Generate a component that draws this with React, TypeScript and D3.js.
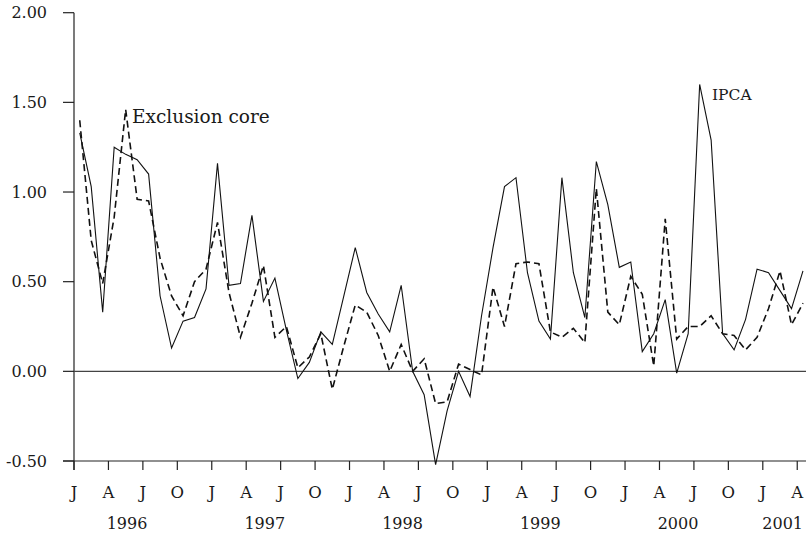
import React from 'react';
import * as d3 from 'd3';

// Monthly observations, January 1996 – April 2001
const startMonth = new Date(Date.UTC(1996, 0, 1));
const endMonth = new Date(Date.UTC(2001, 4, 1));
const months: Date[] = d3.utcMonth.range(startMonth, endMonth);

const ipca = [
  1.33, 1.03, 0.33, 1.25, 1.21, 1.18, 1.10, 0.42, 0.13, 0.28, 0.30, 0.46,
  1.16, 0.48, 0.49, 0.87, 0.39, 0.52, 0.23, -0.04, 0.05, 0.22, 0.15, 0.42,
  0.69, 0.44, 0.32, 0.22, 0.48, 0.00, -0.13, -0.52, -0.22, 0.00, -0.14, 0.31,
  0.69, 1.03, 1.08, 0.55, 0.28, 0.18, 1.08, 0.55, 0.30, 1.17, 0.93, 0.58,
  0.61, 0.11, 0.21, 0.40, -0.01, 0.21, 1.60, 1.29, 0.21, 0.12, 0.29, 0.57,
  0.55, 0.45, 0.35, 0.56,
];

const exclusionCore = [
  1.40, 0.73, 0.49, 0.86, 1.46, 0.96, 0.95, 0.63, 0.42, 0.31, 0.50, 0.57,
  0.83, 0.44, 0.19, 0.38, 0.59, 0.19, 0.25, 0.02, 0.08, 0.21, -0.10, 0.14,
  0.37, 0.33, 0.20, 0.00, 0.15, 0.00, 0.07, -0.18, -0.17, 0.04, 0.01, -0.02,
  0.47, 0.25, 0.60, 0.61, 0.60, 0.22, 0.19, 0.24, 0.16, 1.02, 0.33, 0.26,
  0.53, 0.43, 0.03, 0.85, 0.18, 0.25, 0.25, 0.31, 0.21, 0.20, 0.12, 0.19,
  0.35, 0.56, 0.26, 0.38,
];

const yTicks = [-0.5, 0, 0.5, 1.0, 1.5, 2.0];
const quarterLetters = ['J', 'A', 'J', 'O'];
const years = [1996, 1997, 1998, 1999, 2000, 2001];

const FONT = '"DejaVu Serif", serif';

export default function App() {
  const W = 806;
  const H = 551;
  const left = 74;
  const monthW = 11.48;
  const nMonths = months.length;

  const x = d3.scaleLinear().domain([0, nMonths]).range([left, left + nMonths * monthW]);
  const y = d3.scaleLinear().domain([-0.5, 2.0]).range([461, 12.7]);

  const idx = (d: Date) => d3.utcMonth.count(startMonth, d);

  const lineGen = d3
    .line<number>()
    .x((_, i) => x(i + 0.5))
    .y((v) => y(v));

  const quarterTicks = months.filter((d) => d.getUTCMonth() % 3 === 0);
  const axisY = y(-0.5);
  const rightEdge = W;

  return (
    <svg
      width={W}
      height={H}
      style={{ position: 'absolute', left: 0, top: 0, background: '#fff' }}
      fontFamily={FONT}
    >
      {/* y axis */}
      <line x1={left} x2={left} y1={y(2.0)} y2={axisY + 9} stroke="#222" strokeWidth={1.2} />
      {yTicks.map((t) => (
        <g key={t}>
          <line x1={left - 11} x2={left} y1={y(t)} y2={y(t)} stroke="#222" strokeWidth={1.2} />
          <text
            x={47}
            y={y(t)}
            dy="0.35em"
            textAnchor="end"
            fontSize={16}
            fill="#1a1a1a"
          >
            {t.toFixed(2)}
          </text>
        </g>
      ))}
      {/* zero line */}
      <line x1={left} x2={rightEdge} y1={y(0)} y2={y(0)} stroke="#444" strokeWidth={1.2} />
      {/* x axis */}
      <line x1={left - 11} x2={rightEdge} y1={axisY} y2={axisY} stroke="#222" strokeWidth={1.2} />
      {quarterTicks.map((d) => {
        const xi = x(idx(d));
        return (
          <g key={d.toISOString()}>
            <line x1={xi} x2={xi} y1={axisY} y2={axisY + 9} stroke="#222" strokeWidth={1.2} />
            <text x={xi} y={498} textAnchor="middle" fontSize={16.5} fill="#1a1a1a">
              {quarterLetters[d.getUTCMonth() / 3]}
            </text>
          </g>
        );
      })}
      {years.map((yr, i) => {
        const janX = x(idx(new Date(Date.UTC(yr, 0, 1))));
        const isLast = i === years.length - 1;
        return (
          <text
            key={yr}
            x={isLast ? 803 : janX + 53}
            y={529}
            textAnchor={isLast ? 'end' : 'middle'}
            fontSize={16}
            fill="#1a1a1a"
          >
            {yr}
          </text>
        );
      })}

      {/* series */}
      <path d={lineGen(ipca) || ''} fill="none" stroke="#111" strokeWidth={1.1} strokeLinejoin="miter" />
      <path
        d={lineGen(exclusionCore) || ''}
        fill="none"
        stroke="#111"
        strokeWidth={1.6}
        strokeDasharray="7,4"
      />

      {/* labels */}
      <text x={132} y={123} fontSize={18.5} fill="#1a1a1a">
        Exclusion core
      </text>
      <text x={712} y={100} fontSize={15.5} fill="#1a1a1a">
        IPCA
      </text>
    </svg>
  );
}
